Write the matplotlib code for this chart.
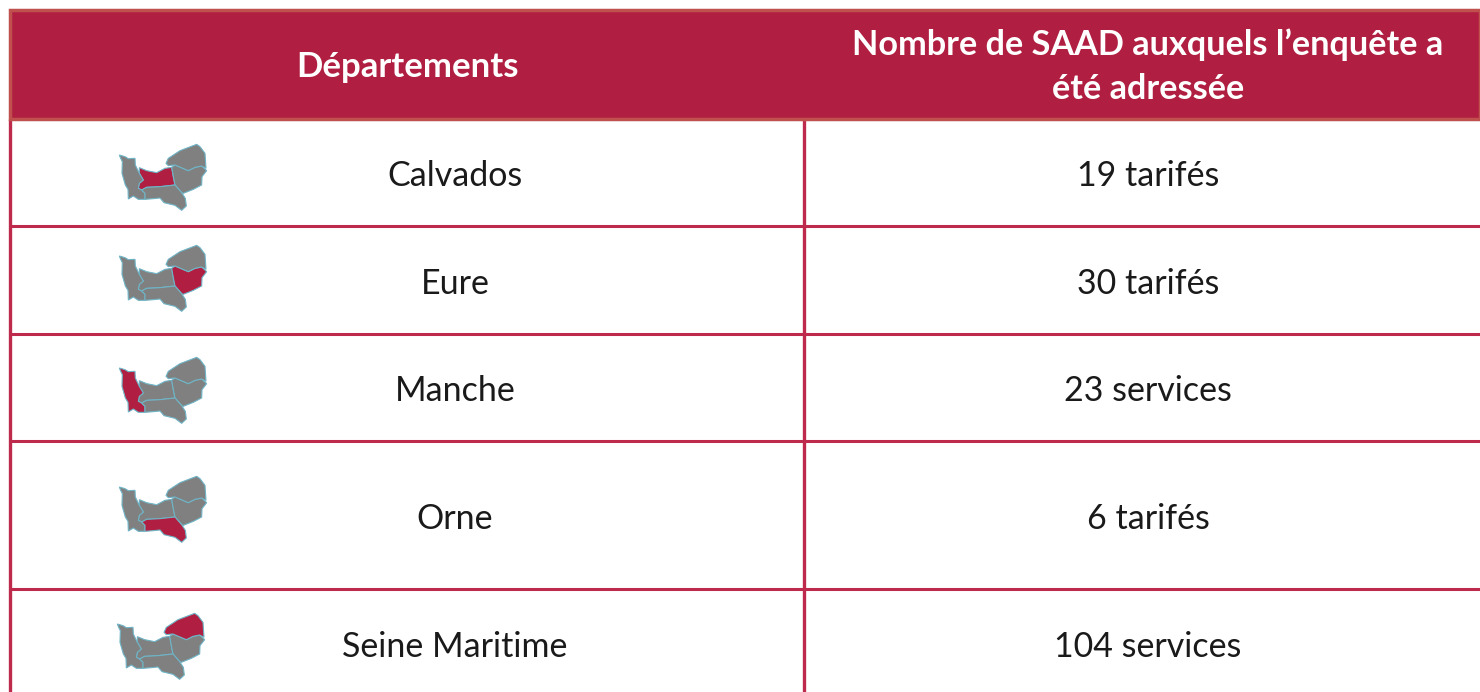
# -*- coding: utf-8 -*-
import matplotlib
matplotlib.use("Agg")
import matplotlib.pyplot as plt
from matplotlib.patches import Polygon, Rectangle

#==============================================================================
# Data
#==============================================================================

header_left = "Départements"
header_right = "Nombre de SAAD auxquels l’enquête a\nété adressée"
departements = ["Calvados", "Eure", "Manche", "Orne", "Seine Maritime"]
nombres = ["19 tarifés", "30 tarifés", "23 services", "6 tarifés", "104 services"]

# outline of each departement (zoomed pixels)
manche = [(58, 75), (75, 80), (85, 86), (105, 85), (106, 105), (118, 130), (130, 150),
          (118, 160), (115, 175), (125, 180), (135, 190), (135, 208), (115, 208),
          (100, 198), (85, 207), (84, 178), (76, 165), (66, 130), (67, 95), (62, 85)]
calvados = [(118, 113), (140, 122), (170, 128), (195, 115), (215, 112), (220, 140),
            (225, 165), (180, 170), (140, 172), (125, 180), (115, 175), (118, 160),
            (130, 150), (118, 130)]
orne = [(125, 180), (140, 172), (180, 170), (225, 165), (245, 188), (256, 205),
        (259, 228), (245, 241), (225, 226), (192, 218), (180, 204), (160, 206),
        (135, 208), (135, 190)]
eure = [(215, 112), (225, 105), (265, 122), (285, 112), (305, 108), (320, 122),
        (306, 140), (305, 165), (280, 178), (250, 190), (245, 188), (225, 165),
        (220, 140)]
seine = [(198, 100), (205, 85), (240, 62), (290, 43), (300, 50), (315, 70), (318, 115),
         (305, 108), (285, 112), (265, 122), (225, 105), (205, 107)]
shapes = [calvados, eure, manche, orne, seine]

#==============================================================================
# Layout
#==============================================================================

W, H = 1480, 692
CRIMSON = "#B01F41"
GREY = "#808080"
EDGE = "#6FB4C6"

row_lines = [119, 226, 334, 441, 589]
row_text = [173, 281, 388, 516, 644]
map_offset = [(100, 130), (100, 231), (100, 343), (100, 462), (98, 599)]

plt.rcParams["font.family"] = ["Lato", "DejaVu Sans"]

fig = plt.figure(figsize=(W / 100, H / 100), dpi=100)
ax = fig.add_axes([0, 0, 1, 1])
ax.set_xlim(0, W)
ax.set_ylim(H, 0)
ax.axis("off")

# header band
ax.add_patch(Rectangle((10, 10), W - 10, 109, fc=CRIMSON, ec="#C0504D", lw=2.5, zorder=2))

# grid lines
for y in row_lines[1:]:
    ax.plot([10, W], [y, y], color="#BE2A4B", lw=2.2, zorder=1, solid_capstyle="butt")
ax.plot([804, 804], [119, H], color="#BE2A4B", lw=2.4, zorder=1, solid_capstyle="butt")
ax.plot([10, 10], [119, H], color="#BE2A4B", lw=2.4, zorder=1, solid_capstyle="butt")

# header text
ax.text(407.5, 67, header_left, color="white", fontsize=25, fontweight="bold",
        ha="center", va="center", zorder=3)
ax.text(1148, 67, header_right, color="white", fontsize=24.7, fontweight="bold",
        ha="center", va="center", linespacing=1.46, zorder=3)

# rows
for i, name in enumerate(departements):
    ax.text(455, row_text[i] + 3, name, color="#1a1a1a", fontsize=24.5, ha="center", va="center")
    ax.text(1148, row_text[i] + 3, nombres[i], color="#1a1a1a", fontsize=24.5, ha="center", va="center")

    ox, oy = map_offset[i]
    for j, shape in enumerate(shapes):
        pts = [(ox + x / 3, oy + y / 3) for x, y in shape]
        color = CRIMSON if j == i else GREY
        ax.add_patch(Polygon(pts, closed=True, fc=color, ec=EDGE, lw=0.8, zorder=3))

fig.savefig("out.png", dpi=100)
